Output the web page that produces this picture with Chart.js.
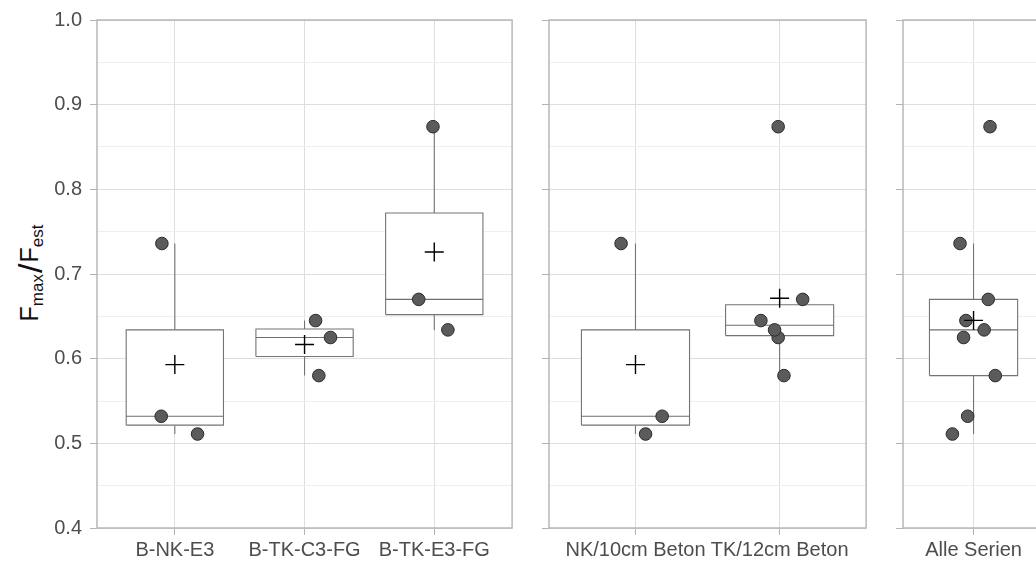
<!DOCTYPE html>
<html>
<head>
<meta charset="utf-8">
<script src="https://cdn.jsdelivr.net/npm/chart.js@4.4.1/dist/chart.umd.min.js"></script>
<style>
  html, body { margin: 0; padding: 0; background: #fff; overflow: hidden; width: 1036px; height: 563px; position: relative;
               font-family: "Liberation Sans", Arial, sans-serif; }
  canvas { position: absolute; top: 0; }
  #ytitle { position: absolute; left: 30px; top: 273px; transform: translate(-50%, -50%) rotate(-90deg);
            font-size: 25px; white-space: nowrap; color: #111; line-height: 1; }
  #ytitle sub { font-size: 17px; vertical-align: -5px; }
  #ytitle .sl { font-size: 34px; vertical-align: -4px; margin: 0 1px; }
</style>
</head>
<body>
<div id="ytitle">F<sub>max</sub><span class="sl">/</span>F<sub>est</sub></div>
<canvas id="c1" width="523" height="563" style="left:0px"></canvas>
<canvas id="c2" width="348" height="563" style="left:529px"></canvas>
<canvas id="c3" width="172" height="563" style="left:883px"></canvas>
<script>
// Werte je Serie (F_max / F_est)
const panel1Cats = ['B-NK-E3', 'B-TK-C3-FG', 'B-TK-E3-FG'];
const panel2Cats = ['NK/10cm Beton', 'TK/12cm Beton'];
const panel3Cats = ['Alle Serien'];

const bNkE3   = [0.736, 0.532, 0.511];
const bTkC3Fg = [0.645, 0.625, 0.580];
const bTkE3Fg = [0.874, 0.670, 0.634];

// jitter der Punkte (x-Versatz in Kategorie-Einheiten), aus dem Bild gelesen
const jitP1 = [[-0.10, -0.105, 0.175], [0.085, 0.20, 0.11], [-0.01, -0.12, 0.105]];
const jitP2 = [[-0.10, 0.185, 0.07], [-0.13, -0.01, 0.03, -0.01, 0.16, -0.035]];
const jitP3 = [[-0.115, -0.05, -0.18, -0.065, -0.085, 0.185, 0.14, 0.125, 0.09]];

const yTickLabels = ['0.4', '0.5', '0.6', '0.7', '0.8', '0.9', '1.0'];

const p1Groups = [bNkE3, bTkC3Fg, bTkE3Fg];
const p2Groups = [bNkE3, bTkC3Fg.concat(bTkE3Fg)];
const p3Groups = [bNkE3.concat(bTkC3Fg, bTkE3Fg)];

Chart.defaults.font.family = '"Liberation Sans", Arial, sans-serif';

const yMajor = yTickLabels.map(Number);
const yAll = [];
yMajor.forEach((v, i) => { yAll.push(v); if (i < yMajor.length - 1) yAll.push((v + yMajor[i + 1]) / 2); });
const isMajor = v => Math.abs(v * 10 - Math.round(v * 10)) < 1e-6;

function quantile(s, p) {
  const h = (s.length - 1) * p, lo = Math.floor(h);
  const hi = Math.min(lo + 1, s.length - 1);
  return s[lo] + (h - lo) * (s[hi] - s[lo]);
}

function boxStats(vals) {
  const s = vals.slice().sort((a, b) => a - b);
  const q1 = quantile(s, 0.25), med = quantile(s, 0.5), q3 = quantile(s, 0.75);
  const iqr = q3 - q1;
  const lo = s.filter(v => v >= q1 - 1.5 * iqr)[0];
  const hi = s.filter(v => v <= q3 + 1.5 * iqr).pop();
  const mean = s.reduce((a, b) => a + b, 0) / s.length;
  return { q1, med, q3, lo, hi, mean };
}

const HALF = 0.375; // halbe Boxbreite

function makeDatasets(groups, jit) {
  const st = groups.map(boxStats);
  const ds = [];

  // Mittelwert (+)
  ds.push({ data: st.map((s, i) => ({ x: i + 1, y: s.mean })), pointStyle: 'cross',
            pointRadius: 9.5, borderColor: '#000', borderWidth: 1.4, showLine: false });

  // Einzelwerte
  const pts = [];
  groups.forEach((g, i) => g.forEach((v, j) => pts.push({ x: i + 1 + jit[i][j], y: v })));
  ds.push({ data: pts, pointRadius: 6.3, backgroundColor: '#5b5b5b', borderColor: '#2c2c2c',
            borderWidth: 1, showLine: false });

  // Median
  const med = [];
  st.forEach((s, i) => { med.push({ x: i + 1 - HALF, y: s.med }, { x: i + 1 + HALF, y: s.med }, { x: i + 1, y: null }); });
  ds.push({ data: med, showLine: true, pointRadius: 0, borderColor: '#6e6e6e', borderWidth: 1.1, spanGaps: false });

  // Boxen
  st.forEach((s, i) => {
    const x0 = i + 1 - HALF, x1 = i + 1 + HALF;
    ds.push({ data: [{ x: x0, y: s.q1 }, { x: x1, y: s.q1 }, { x: x1, y: s.q3 }, { x: x0, y: s.q3 }, { x: x0, y: s.q1 }],
              showLine: true, pointRadius: 0, fill: 'shape', backgroundColor: '#fff',
              borderColor: '#747474', borderWidth: 1.1 });
  });

  // Whisker
  const wh = [];
  st.forEach((s, i) => {
    wh.push({ x: i + 1, y: s.q3 }, { x: i + 1, y: s.hi }, { x: i + 1, y: null },
            { x: i + 1, y: s.q1 }, { x: i + 1, y: s.lo }, { x: i + 1, y: null });
  });
  ds.push({ data: wh, showLine: true, pointRadius: 0, borderColor: '#747474', borderWidth: 1.1, spanGaps: false });
  return ds;
}

const panelBorder = {
  id: 'panelBorder',
  beforeDatasetsDraw(chart) {
    const a = chart.chartArea, ctx = chart.ctx;
    ctx.save();
    ctx.strokeStyle = '#b3b3b3';
    ctx.lineWidth = 1.4;
    ctx.strokeRect(a.left, a.top, a.right - a.left, a.bottom - a.top);
    ctx.restore();
  }
};

function makeChart(id, cats, groups, jit, yWidth, yLabels) {
  return new Chart(document.getElementById(id), {
    type: 'scatter',
    data: { datasets: makeDatasets(groups, jit) },
    plugins: [panelBorder],
    options: {
      responsive: false,
      animation: false,
      events: [],
      layout: { padding: { top: 19, right: 8, left: 0, bottom: 0 } },
      plugins: { legend: { display: false }, tooltip: { enabled: false } },
      scales: {
        x: {
          type: 'linear', min: 0.4, max: cats.length + 0.6,
          afterBuildTicks: sc => { sc.ticks = cats.map((c, i) => ({ value: i + 1 })); },
          afterFit: sc => { sc.height = 35; },
          ticks: { autoSkip: false, maxRotation: 0, padding: 3, color: '#4d4d4d', font: { size: 20 },
                   callback: v => cats[Math.round(v) - 1] || '' },
          grid: { color: '#dedede', lineWidth: 1, tickLength: 7, tickColor: '#b3b3b3' },
          border: { display: false }
        },
        y: {
          type: 'linear', min: 0.4, max: 1.0,
          afterBuildTicks: sc => { sc.ticks = yAll.map(v => ({ value: v })); },
          afterFit: sc => { sc.width = yWidth; },
          ticks: { autoSkip: false, padding: 8, color: '#4d4d4d', font: { size: 20 },
                   callback: v => (yLabels && isMajor(v)) ? yTickLabels[Math.round((v - 0.4) * 10)] : '' },
          grid: {
            color: c => isMajor(c.tick.value) ? '#dedede' : '#efefef',
            tickColor: c => isMajor(c.tick.value) ? '#b3b3b3' : 'rgba(0,0,0,0)',
            lineWidth: 1, tickLength: 7
          },
          border: { display: false }
        }
      }
    }
  });
}

makeChart('c1', panel1Cats, p1Groups, jitP1, 97, true);
makeChart('c2', panel2Cats, p2Groups, jitP2, 20, false);
makeChart('c3', panel3Cats, p3Groups, jitP3, 20, false);
</script>
</body>
</html>
